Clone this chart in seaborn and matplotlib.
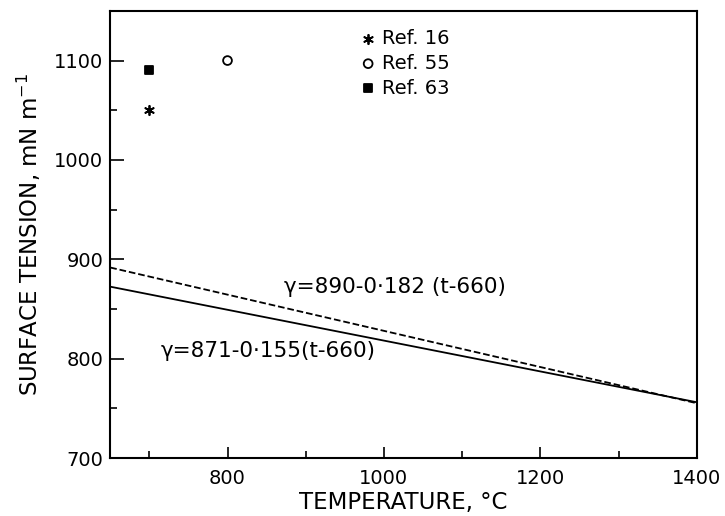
import numpy as np
import pandas as pd
import seaborn as sns
import matplotlib.pyplot as plt
from matplotlib.ticker import MultipleLocator

sns.set_theme(style="ticks")
plt.rcParams['font.family'] = ['DejaVu Sans']

# Linear fits: gamma = a - b (t - 660)
fit_a = [890, 871]
fit_b = [0.182, 0.155]
fit_labels = ["γ=890-0·182 (t-660)", "γ=871-0·155(t-660)"]
fit_styles = ["--", "-"]
t_range = [650, 1400]

# Literature data points
ref_names = ["Ref. 16", "Ref. 55", "Ref. 63"]
ref_temp = [700, 800, 700]
ref_gamma = [1050, 1100, 1090]

fig = plt.figure(figsize=(7.25, 5.16), dpi=100)
ax = fig.add_axes([0.152, 0.112, 0.809, 0.867])

t = np.array(t_range, dtype=float)
for a, b, ls in zip(fit_a, fit_b, fit_styles):
    line_df = pd.DataFrame({"t": t, "g": a - b * (t - 660)})
    sns.lineplot(data=line_df, x="t", y="g", ax=ax, color="black",
                 linestyle=ls, linewidth=1.3, legend=False)

pts = pd.DataFrame({"t": ref_temp, "g": ref_gamma, "ref": ref_names})
markers = {"Ref. 16": (6, 2, 0), "Ref. 55": "o", "Ref. 63": "s"}
sizes = {"Ref. 16": 45, "Ref. 55": 40, "Ref. 63": 35}
for name in ref_names:
    sub = pts[pts["ref"] == name]
    mk = markers[name]
    face = "none" if mk == "o" else "black"
    sns.scatterplot(data=sub, x="t", y="g", ax=ax, marker=mk, s=sizes[name],
                    color="black", facecolor=face, edgecolor="black",
                    linewidth=1.3, label=name)

ax.set_xlim(650, 1400)
ax.set_ylim(700, 1150)
ax.xaxis.set_major_locator(MultipleLocator(200))
ax.xaxis.set_minor_locator(MultipleLocator(100))
ax.yaxis.set_major_locator(MultipleLocator(100))
ax.yaxis.set_minor_locator(MultipleLocator(50))
ax.tick_params(which="both", direction="in", color="black", width=1.2,
               labelsize=14, labelcolor="black")
ax.tick_params(axis="x", which="major", length=8, pad=8)
ax.tick_params(axis="x", which="minor", length=5)
ax.tick_params(axis="y", which="major", length=10, pad=5)
ax.tick_params(axis="y", which="minor", length=5)
for sp in ax.spines.values():
    sp.set_visible(True)
    sp.set_color("black")
    sp.set_linewidth(1.5)

ax.set_xlabel("TEMPERATURE, °C", fontsize=16.5, color="black", labelpad=2)
ax.set_ylabel("SURFACE TENSION, mN m$^{-1}$", fontsize=16.5, color="black",
              labelpad=8)

ax.text(1014, 872, fit_labels[0], fontsize=15.5, ha="center", va="center",
        color="black")
ax.text(852, 808, fit_labels[1], fontsize=15.5, ha="center", va="center",
        color="black")

ax.legend(loc="upper left", bbox_to_anchor=(0.40, 0.99), frameon=False,
          fontsize=14, handletextpad=0.2, labelspacing=0.3,
          handlelength=1.0, borderpad=0.2, labelcolor="black")

fig.savefig("out.png", dpi=100)
